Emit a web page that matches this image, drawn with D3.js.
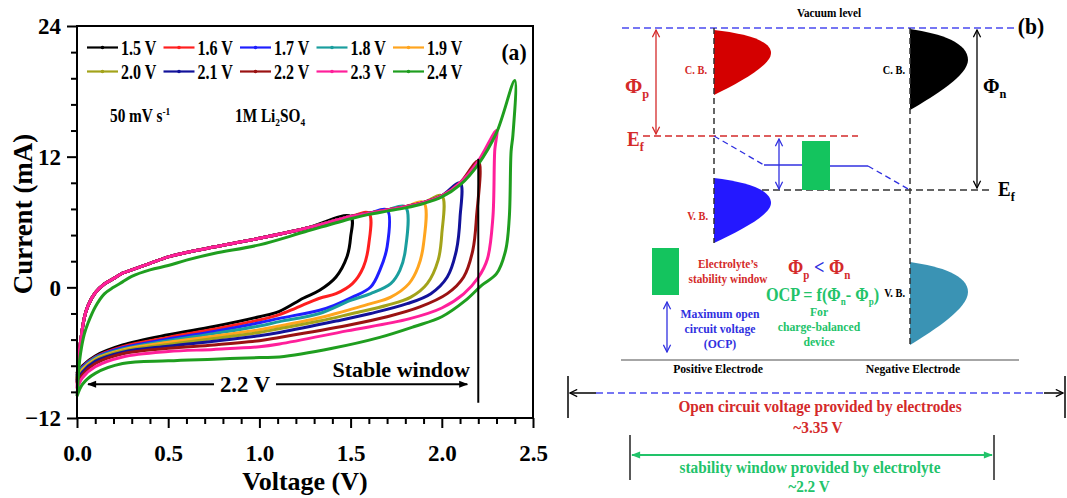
<!DOCTYPE html>
<html>
<head>
<meta charset="utf-8">
<script src="https://cdnjs.cloudflare.com/ajax/libs/d3/7.8.5/d3.min.js"></script>
<style>
body{margin:0;background:#fff;}
svg text{font-family:"Liberation Serif","Times New Roman",serif;font-weight:bold;}
</style>
</head>
<body>
<svg id="fig" width="1067" height="498"></svg>
<script>
// ---- panel (a) data ----
var seriesVmax = [1.5,1.6,1.7,1.8,1.9,2.0,2.1,2.2,2.3,2.4];
var seriesNames = ["1.5 V","1.6 V","1.7 V","1.8 V","1.9 V","2.0 V","2.1 V","2.2 V","2.3 V","2.4 V"];
var seriesColors = ["#000000","#ff1f1f","#1f1fff","#1a9e9e","#ffa51f","#a3a31a","#12129a","#9a1212","#ff1f9a","#1f9e1f"];

// forward (anodic) scan, shared by the 1.5 - 2.3 V loops
var upperV = [0.005,0.01,0.02,0.04,0.06,0.1,0.15,0.2,0.25,0.3,0.4,0.5,0.6,0.75,1.0,1.25,1.5,1.6,1.7,1.8,1.9,2.0,2.1,2.2,2.3,2.4];
var upperI = [-7.5,-6.3,-4.9,-2.8,-1.7,-0.5,0.3,0.8,1.3,1.6,2.2,2.8,3.2,3.7,4.5,5.4,6.5,6.8,7.1,7.4,7.8,8.4,9.6,11.6,14.4,19.0];
// forward scan of the 2.4 V loop (sits a little lower)
var upperGreenI = [-8.8,-7.5,-6.0,-4.3,-3.3,-1.8,-0.6,0.0,0.5,1.0,1.6,2.0,2.5,3.1,3.9,5.1,6.3,6.7,7.0,7.3,7.7,8.3,9.4,11.3,14.2,19.0];

// reverse (cathodic) scans [V, mA]
var lower15 = [[1.5,6.5],[1.5,4.6],[1.48,2.8],[1.42,0.95],[1.33,-0.27],[1.24,-1.0],[1.11,-2.2],[1.0,-2.7],[0.75,-3.6],[0.5,-4.35],[0.25,-5.3],[0.1,-6.3],[0.03,-7.2],[0,-7.9]];
var lower16 = [[1.6,6.8],[1.6,4.0],[1.57,1.86],[1.51,0.34],[1.42,-0.58],[1.33,-1.0],[1.2,-1.9],[1.11,-2.5],[1.0,-3.0],[0.75,-3.85],[0.5,-4.6],[0.25,-5.45],[0.1,-6.4],[0.03,-7.3],[0,-8.06]];
var lower17 = [[1.7,7.1],[1.7,3.7],[1.66,1.56],[1.61,0.03],[1.51,-0.9],[1.41,-1.65],[1.33,-2.1],[1.11,-2.85],[1.0,-3.25],[0.75,-4.05],[0.5,-4.75],[0.25,-5.55],[0.1,-6.45],[0.03,-7.35],[0,-8.15]];
var lower18 = [[1.8,7.4],[1.8,3.4],[1.77,1.56],[1.72,0.34],[1.61,-0.58],[1.5,-1.2],[1.33,-2.4],[1.11,-3.15],[1.0,-3.55],[0.75,-4.25],[0.5,-4.9],[0.25,-5.65],[0.1,-6.5],[0.03,-7.45],[0,-8.27]];
var lower19 = [[1.9,7.8],[1.9,4.0],[1.87,1.86],[1.82,0.34],[1.72,-0.9],[1.61,-1.5],[1.42,-2.4],[1.33,-2.8],[1.11,-3.55],[1.0,-3.9],[0.75,-4.5],[0.5,-5.05],[0.25,-5.75],[0.1,-6.6],[0.03,-7.55],[0,-8.36]];
var lower20 = [[2.0,8.4],[2.0,4.9],[1.98,2.5],[1.92,0.34],[1.83,-0.9],[1.7,-1.65],[1.51,-2.4],[1.33,-3.1],[1.11,-3.8],[1.0,-4.15],[0.75,-4.7],[0.5,-5.25],[0.25,-5.85],[0.1,-6.7],[0.03,-7.7],[0,-8.52]];
var lower21 = [[2.1,9.6],[2.1,6.4],[2.08,3.4],[2.03,0.95],[1.94,-0.58],[1.81,-1.5],[1.61,-2.4],[1.42,-3.1],[1.11,-4.15],[1.0,-4.45],[0.75,-4.95],[0.5,-5.4],[0.25,-5.95],[0.1,-6.8],[0.03,-7.8],[0,-8.67]];
var lower22 = [[2.2,11.6],[2.19,6.4],[2.17,3.4],[2.12,0.95],[2.03,-0.58],[1.88,-1.8],[1.7,-2.7],[1.48,-3.5],[1.11,-4.6],[1.0,-4.9],[0.75,-5.3],[0.5,-5.6],[0.25,-6.1],[0.1,-7.0],[0.03,-8.0],[0,-8.82]];
var lower23 = [[2.3,14.4],[2.29,12.5],[2.28,6.4],[2.25,2.6],[2.2,0.9],[2.12,-0.6],[2.0,-1.9],[1.82,-2.9],[1.48,-4.0],[1.11,-5.2],[1.0,-5.45],[0.75,-5.7],[0.5,-5.9],[0.25,-6.4],[0.1,-7.3],[0.03,-8.3],[0,-9.3]];
var lower24 = [[2.4,19.0],[2.39,14.0],[2.38,12.5],[2.37,6.4],[2.35,3.4],[2.3,1.25],[2.22,0.2],[2.13,-1.2],[2.0,-2.7],[1.85,-3.6],[1.66,-4.6],[1.4,-5.6],[1.11,-6.4],[1.0,-6.45],[0.75,-6.6],[0.5,-6.75],[0.25,-7.0],[0.1,-7.9],[0.03,-8.9],[0,-10.0]];
var lowerBranches = [lower15,lower16,lower17,lower18,lower19,lower20,lower21,lower22,lower23,lower24];

var xTicks = [0,0.5,1.0,1.5,2.0,2.5];
var xMinorTicks = [0.1,0.2,0.3,0.4,0.6,0.7,0.8,0.9,1.1,1.2,1.3,1.4,1.6,1.7,1.8,1.9,2.1,2.2,2.3,2.4];
var yTicks = [-12,0,12,24];
var yMinorTicks = [-9.6,-7.2,-4.8,-2.4,2.4,4.8,7.2,9.6,14.4,16.8,19.2,21.6];
var stableWindow = [0,2.2];

var svg = d3.select("#fig");

var addText = function(target,x,y,size,fill,anchor,sx)
{
    return target.append("text")
        .attr("transform","translate("+x+","+y+") scale("+sx+",1)")
        .attr("font-size",size)
        .attr("fill",fill)
        .attr("text-anchor",anchor);
}

var makeMarker = function(id,color,filled)
{
    var m = svg.select("defs").append("marker")
        .attr("id",id)
        .attr("viewBox","0 0 10 10")
        .attr("refX",9).attr("refY",5)
        .attr("markerWidth",filled?11:9).attr("markerHeight",9)
        .attr("markerUnits","userSpaceOnUse")
        .attr("orient","auto-start-reverse");
    if(filled)
    {
        m.append("path").attr("d","M0,1 L10,5 L0,9 Z").attr("fill",color);
    }
    else
    {
        m.append("path").attr("d","M1,1 L9,5 L1,9").attr("fill","none")
            .attr("stroke",color).attr("stroke-width",1.4);
    }
}

svg.append("defs");
makeMarker("arrA","#000",true);
makeMarker("arrK","#000",false);
makeMarker("arrR","#d42a2a",false);
makeMarker("arrB","#3030e0",false);
makeMarker("arrG","#22c36a",true);

// ---------------- panel (a) ----------------
var drawPanelA = function()
{
    var xScale = d3.scaleLinear().domain([0,2.5]).range([77,533]);
    var yScale = d3.scaleLinear().domain([-12,24]).range([418,26]);

    var line = d3.line()
        .x(function(p){return xScale(p[0]);})
        .y(function(p){return yScale(p[1]);})
        .curve(d3.curveCatmullRom.alpha(0.5));

    var loops = seriesVmax.map(function(vmax,i)
    {
        var lower = lowerBranches[i];
        var up = (i==9)?upperGreenI:upperI;
        var pts = [lower[lower.length-1]];
        upperV.forEach(function(v,j){ if(v<vmax-0.001){pts.push([v,up[j]]);} });
        return pts.concat(lower);
    });

    svg.append("g")
        .selectAll("path")
        .data(loops)
        .enter()
        .append("path")
        .attr("d",line)
        .attr("fill","none")
        .attr("stroke",function(d,i){return seriesColors[i];})
        .attr("stroke-width",3)
        .attr("stroke-linejoin","round");

    // axes
    var xMinor = svg.append("g").attr("transform","translate(0,418)")
        .call(d3.axisBottom(xScale).tickValues(xMinorTicks).tickSize(6).tickFormat(""));
    var xMajor = svg.append("g").attr("transform","translate(0,418)")
        .call(d3.axisBottom(xScale).tickValues(xTicks).tickSize(10).tickPadding(17).tickFormat(d3.format(".1f")));
    var yMinor = svg.append("g").attr("transform","translate(77,0)")
        .call(d3.axisLeft(yScale).tickValues(yMinorTicks).tickSize(6).tickFormat(""));
    var yMajor = svg.append("g").attr("transform","translate(77,0)")
        .call(d3.axisLeft(yScale).tickValues(yTicks).tickSize(10).tickPadding(6).tickFormat(d3.format("d")));
    [xMinor,xMajor,yMinor,yMajor].forEach(function(a)
    {
        a.select(".domain").remove();
        a.selectAll("line").attr("stroke","#000").attr("stroke-width",2);
        a.selectAll("text").attr("font-size",23).attr("fill","#000")
            .attr("font-family","'Liberation Serif','Times New Roman',serif").attr("font-weight","bold");
    });
    yMajor.selectAll("text").attr("dy","0.34em");

    svg.append("rect")
        .attr("x",77).attr("y",26).attr("width",456).attr("height",392)
        .attr("fill","none").attr("stroke","#000").attr("stroke-width",2);

    // axis titles
    svg.append("text").text("Current (mA)")
        .attr("transform","translate(32,214) rotate(-90)")
        .attr("text-anchor","middle").attr("font-size",27);
    svg.append("text").text("Voltage (V)")
        .attr("x",305).attr("y",490)
        .attr("text-anchor","middle").attr("font-size",26);

    // legend
    var legend = svg.append("g");
    var entries = legend.selectAll("g")
        .data(seriesNames)
        .enter()
        .append("g")
        .attr("transform",function(d,i)
        {
            return "translate("+(87+76.5*(i%5))+","+(47.5+24*Math.floor(i/5))+")";
        });
    entries.append("line")
        .attr("x1",0).attr("x2",31).attr("y1",0).attr("y2",0)
        .attr("stroke",function(d,i){return seriesColors[i];})
        .attr("stroke-width",2.2);
    entries.append("circle")
        .attr("cx",15.5).attr("cy",0).attr("r",1.8)
        .attr("fill",function(d,i){return seriesColors[i];});
    entries.append("text")
        .text(function(d){return d;})
        .attr("transform","translate(34,7) scale(0.8,1)")
        .attr("font-size",20);

    var t1 = addText(svg,110,122,18,"#000","start",0.85);
    t1.append("tspan").text("50 mV s");
    t1.append("tspan").text("-1").attr("font-size",11).attr("dy",-7);
    var t2 = addText(svg,235,122,18,"#000","start",0.85);
    t2.append("tspan").text("1M Li");
    t2.append("tspan").text("2").attr("font-size",11).attr("dy",4);
    t2.append("tspan").text("SO").attr("dy",-4);
    t2.append("tspan").text("4").attr("font-size",11).attr("dy",4);

    addText(svg,514,60,24,"#000","middle",0.9).text("(a)");

    // stable window annotation
    var ay = yScale(-8.9);
    svg.append("line")
        .attr("x1",xScale(stableWindow[1])).attr("x2",xScale(stableWindow[1]))
        .attr("y1",yScale(11.8)).attr("y2",yScale(-10.6))
        .attr("stroke","#000").attr("stroke-width",2);
    svg.append("line")
        .attr("x1",xScale(stableWindow[0])+11).attr("x2",xScale(stableWindow[1])-11)
        .attr("y1",ay).attr("y2",ay)
        .attr("stroke","#000").attr("stroke-width",2)
        .attr("marker-start","url(#arrA)").attr("marker-end","url(#arrA)");
    svg.append("rect")
        .attr("x",214).attr("y",ay-12).attr("width",62).attr("height",24)
        .attr("fill","#fff");
    addText(svg,245,ay+8,24,"#000","middle",0.95).text("2.2 V");
    svg.append("text").text("Stable window")
        .attr("x",470).attr("y",ay-7)
        .attr("text-anchor","end").attr("font-size",22);
}

// ---------------- panel (b) ----------------
var drawLine = function(x1,y1,x2,y2,color,width,dash)
{
    return svg.append("line")
        .attr("x1",x1).attr("y1",y1).attr("x2",x2).attr("y2",y2)
        .attr("stroke",color).attr("stroke-width",width)
        .attr("stroke-dasharray",dash);
}

var drawBand = function(x0,yTop,yBot,xPeak,yPeak,fill)
{
    var w = xPeak-x0;
    var d = "M"+x0+","+yTop+
        " C"+(x0+w*0.55)+","+(yTop+(yPeak-yTop)*0.15)+" "+xPeak+","+(yPeak-(yPeak-yTop)*0.55)+" "+xPeak+","+yPeak+
        " C"+xPeak+","+(yPeak+(yBot-yPeak)*0.3)+" "+(x0+w*0.45)+","+(yBot-(yBot-yPeak)*0.3)+" "+x0+","+yBot+" Z";
    svg.append("path").attr("d",d).attr("fill",fill);
}

var drawPanelB = function()
{
    var red = "#d42a2a", blue = "#3030e0", green = "#22c36a";

    addText(svg,829,17,12.5,"#000","middle",0.9).text("Vacuum level");
    drawLine(622,28,1016,28,"#4a4af0",1.5,"7,4");
    addText(svg,1031,34,24,"#000","middle",0.9).text("(b)");

    // bands
    drawBand(714,30,95,771,53,"#d40000");
    drawBand(714,178,243,771,203,"#2418ff");
    drawBand(910,29,110,968,60,"#000");
    drawBand(910,262,345,968,292,"#3a93b4");

    drawLine(714,28,714,243,"#333",1.5,"6,4");
    drawLine(910,28,910,345,"#333",1.5,"6,4");

    // Fermi levels
    drawLine(643,136,858,136,red,1.5,"7,4");
    drawLine(762,190,992,190,"#333",1.5,"7,4");
    drawLine(714,136,764,165,blue,1.3,"6,4");
    drawLine(764,165,802,165,blue,1.3,null);
    drawLine(830,166,868,166,blue,1.3,null);
    drawLine(868,166,910,190,blue,1.3,"6,4");

    svg.append("rect").attr("x",802).attr("y",141).attr("width",28).attr("height",49).attr("fill","#14c45e");
    svg.append("rect").attr("x",652).attr("y",248).attr("width",27).attr("height",47).attr("fill","#14c45e");

    // double arrows
    drawLine(656,30,656,134,red,1.3,null).attr("marker-start","url(#arrR)").attr("marker-end","url(#arrR)");
    drawLine(779,139,779,189,blue,1.3,null).attr("marker-start","url(#arrB)").attr("marker-end","url(#arrB)");
    drawLine(977,30,977,188,"#000",1.3,null).attr("marker-start","url(#arrK)").attr("marker-end","url(#arrK)");
    drawLine(667,302,667,352,blue,1.3,null).attr("marker-start","url(#arrB)").attr("marker-end","url(#arrB)");

    // level labels
    var phiP = addText(svg,625,93,22,red,"start",0.95);
    phiP.append("tspan").text("Φ");
    phiP.append("tspan").text("p").attr("font-size",13).attr("dy",5);
    var efL = addText(svg,627,146,20,red,"start",0.95);
    efL.append("tspan").text("E");
    efL.append("tspan").text("f").attr("font-size",13).attr("dy",5);
    var phiN = addText(svg,983,93,21,"#000","start",0.95);
    phiN.append("tspan").text("Φ");
    phiN.append("tspan").text("n").attr("font-size",13).attr("dy",5);
    var efR = addText(svg,998,196,20,"#000","start",0.95);
    efR.append("tspan").text("E");
    efR.append("tspan").text("f").attr("font-size",13).attr("dy",5);

    addText(svg,707,74,11.5,red,"end",0.9).text("C. B.");
    addText(svg,708,220,11.5,red,"end",0.9).text("V. B.");
    addText(svg,905,74,11.5,"#000","end",0.9).text("C. B.");
    addText(svg,905,297,11.5,"#000","end",0.9).text("V. B.");

    addText(svg,728,268,12.5,red,"middle",0.9).text("Electrolyte’s");
    addText(svg,728,283,12.5,red,"middle",0.9).text("stability window");
    addText(svg,720,318,13,blue,"middle",0.9).text("Maximum open");
    addText(svg,720,333,13,blue,"middle",0.9).text("circuit voltage");
    addText(svg,720,348,13,blue,"middle",0.9).text("(OCP)");

    var rel = addText(svg,788,274,20,red,"start",0.92);
    rel.append("tspan").text("Φ");
    rel.append("tspan").text("p").attr("font-size",12).attr("dy",5);
    rel.append("tspan").text(" < ").attr("fill",blue).attr("dy",-5);
    rel.append("tspan").text("Φ");
    rel.append("tspan").text("n").attr("font-size",12).attr("dy",5);

    var ocp = addText(svg,766,301,18,green,"start",0.9);
    ocp.append("tspan").text("OCP = f(Φ");
    ocp.append("tspan").text("n").attr("font-size",10).attr("dy",4);
    ocp.append("tspan").text("- Φ").attr("dy",-4);
    ocp.append("tspan").text("p").attr("font-size",10).attr("dy",4);
    ocp.append("tspan").text(")").attr("dy",-4);

    addText(svg,819,316,13,green,"middle",0.9).text("For");
    addText(svg,819,331,13,green,"middle",0.9).text("charge-balanced");
    addText(svg,819,346,13,green,"middle",0.9).text("device");

    drawLine(621,360,1019,360,"#888",1.5,null);
    addText(svg,718,373,13,"#000","middle",0.9).text("Positive Electrode");
    addText(svg,913,373,13,"#000","middle",0.9).text("Negative Electrode");

    // open circuit voltage span
    drawLine(568,376,568,418,"#000",1.5,null);
    drawLine(1065,376,1065,418,"#000",1.5,null);
    drawLine(570,393,596,393,"#000",1.5,null).attr("marker-start","url(#arrK)");
    drawLine(596,393,1044,393,"#4a4af0",1.5,"7,4");
    drawLine(1044,393,1063,393,"#000",1.5,null).attr("marker-end","url(#arrK)");
    addText(svg,820,412,17,red,"middle",0.9).text("Open circuit voltage provided by electrodes");
    addText(svg,818,433,17,red,"middle",0.9).text("~3.35 V");

    // electrolyte window span
    drawLine(630,435,630,480,"#222",1.5,null);
    drawLine(994,435,994,480,"#222",1.5,null);
    drawLine(632,455,992,455,green,2,null).attr("marker-start","url(#arrG)").attr("marker-end","url(#arrG)");
    addText(svg,810,473,17,green,"middle",0.9).text("stability window provided by electrolyte");
    addText(svg,809,492,17,green,"middle",0.9).text("~2.2 V");
}

drawPanelA();
drawPanelB();
</script>
</body>
</html>
